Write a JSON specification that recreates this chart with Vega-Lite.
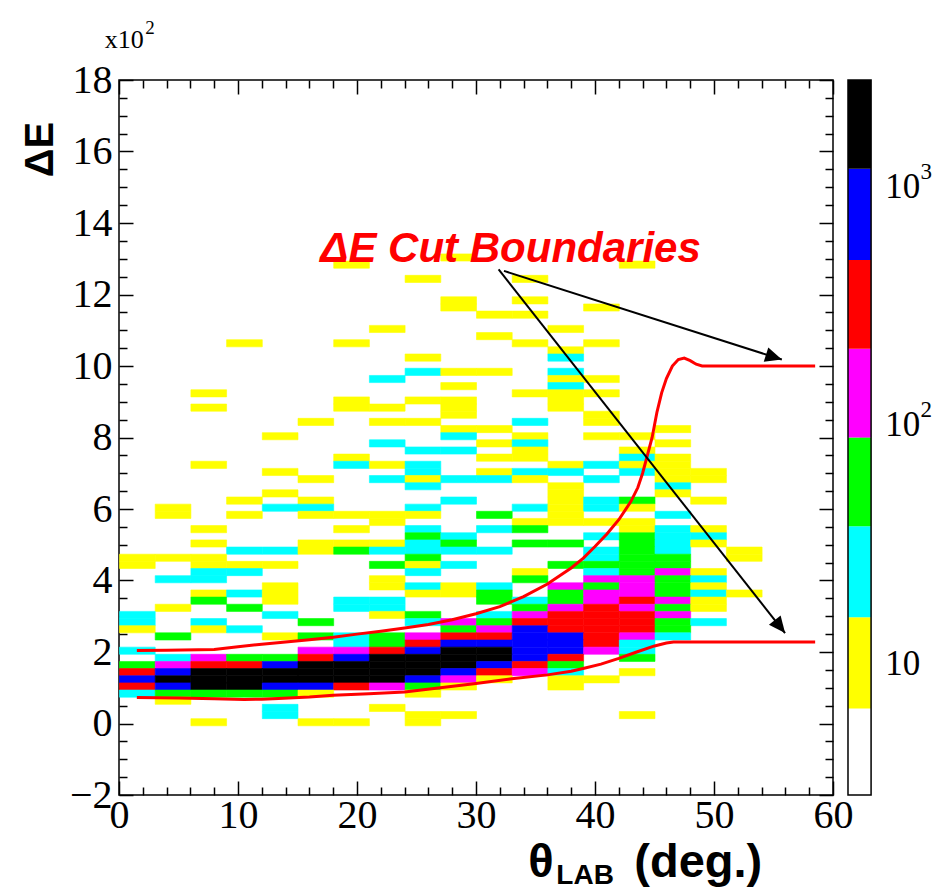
{
  "$schema": "https://vega.github.io/schema/vega-lite/v6.json",
  "width": 714,
  "height": 715,
  "autosize": "none",
  "padding": {"left": 119, "top": 80, "right": 115, "bottom": 96},
  "background": "white",
  "config": {
    "view": {"stroke": "#000000", "strokeWidth": 1.5},
    "axis": {"grid": false, "domain": false, "tickColor": "#000000", "labelColor": "#000000", "tickWidth": 1.5, "title": null}
  },
  "resolve": {"scale": {"x": "independent", "y": "independent"}, "axis": {"x": "independent", "y": "independent"}},
  "layer": [
    {
      "data": {"values": [
        {"x":27,"y":12.95,"c":10},
        {"x":18,"y":12.75,"c":10},{"x":42,"y":12.75,"c":10},
        {"x":24,"y":12.35,"c":10},{"x":33,"y":12.35,"c":10},
        {"x":27,"y":11.75,"c":10},{"x":33,"y":11.75,"c":10},
        {"x":27,"y":11.55,"c":10},{"x":39,"y":11.55,"c":10},
        {"x":30,"y":11.35,"c":10},{"x":33,"y":11.35,"c":10},
        {"x":21,"y":10.95,"c":10},{"x":36,"y":10.95,"c":10},
        {"x":30,"y":10.75,"c":10},
        {"x":9,"y":10.55,"c":10},{"x":18,"y":10.55,"c":10},{"x":33,"y":10.55,"c":10},{"x":39,"y":10.55,"c":10},
        {"x":36,"y":10.35,"c":10},
        {"x":24,"y":10.15,"c":10},{"x":36,"y":10.15,"c":25},
        {"x":24,"y":9.75,"c":25},{"x":27,"y":9.75,"c":10},{"x":30,"y":9.75,"c":10},{"x":36,"y":9.75,"c":25},
        {"x":21,"y":9.55,"c":25},{"x":36,"y":9.55,"c":10},{"x":39,"y":9.55,"c":10},
        {"x":27,"y":9.35,"c":10},{"x":36,"y":9.35,"c":25},
        {"x":6,"y":9.15,"c":10},{"x":33,"y":9.15,"c":10},{"x":36,"y":9.15,"c":10},{"x":39,"y":9.15,"c":10},
        {"x":18,"y":8.95,"c":10},{"x":24,"y":8.95,"c":10},{"x":27,"y":8.95,"c":10},{"x":36,"y":8.95,"c":10},
        {"x":6,"y":8.75,"c":10},{"x":18,"y":8.75,"c":10},{"x":21,"y":8.75,"c":10},{"x":27,"y":8.75,"c":10},{"x":36,"y":8.75,"c":10},
        {"x":27,"y":8.55,"c":10},{"x":39,"y":8.55,"c":10},
        {"x":15,"y":8.35,"c":10},{"x":21,"y":8.35,"c":10},{"x":24,"y":8.35,"c":10},{"x":33,"y":8.35,"c":25},{"x":39,"y":8.35,"c":10},
        {"x":27,"y":8.15,"c":10},{"x":30,"y":8.15,"c":10},{"x":45,"y":8.15,"c":10},
        {"x":12,"y":7.95,"c":10},{"x":27,"y":7.95,"c":25},{"x":33,"y":7.95,"c":10},{"x":39,"y":7.95,"c":10},{"x":42,"y":7.95,"c":10},
        {"x":21,"y":7.75,"c":25},{"x":30,"y":7.75,"c":10},{"x":33,"y":7.75,"c":25},{"x":45,"y":7.75,"c":10},
        {"x":24,"y":7.55,"c":25},{"x":27,"y":7.55,"c":25},{"x":33,"y":7.55,"c":10},{"x":42,"y":7.55,"c":10},
        {"x":18,"y":7.35,"c":10},{"x":30,"y":7.35,"c":10},{"x":33,"y":7.35,"c":10},{"x":42,"y":7.35,"c":25},{"x":45,"y":7.35,"c":10},
        {"x":6,"y":7.15,"c":10},{"x":18,"y":7.15,"c":25},{"x":21,"y":7.15,"c":10},{"x":24,"y":7.15,"c":25},{"x":36,"y":7.15,"c":10},{"x":39,"y":7.15,"c":25},{"x":42,"y":7.15,"c":10},{"x":45,"y":7.15,"c":10},
        {"x":12,"y":6.95,"c":10},{"x":24,"y":6.95,"c":25},{"x":30,"y":6.95,"c":10},{"x":33,"y":6.95,"c":25},{"x":36,"y":6.95,"c":25},{"x":42,"y":6.95,"c":25},{"x":45,"y":6.95,"c":10},{"x":48,"y":6.95,"c":10},
        {"x":15,"y":6.75,"c":10},{"x":21,"y":6.75,"c":25},{"x":24,"y":6.75,"c":10},{"x":27,"y":6.75,"c":25},{"x":30,"y":6.75,"c":25},{"x":33,"y":6.75,"c":10},{"x":39,"y":6.75,"c":25},{"x":45,"y":6.75,"c":10},{"x":48,"y":6.75,"c":10},
        {"x":24,"y":6.55,"c":25},{"x":36,"y":6.55,"c":10},{"x":45,"y":6.55,"c":25},
        {"x":12,"y":6.35,"c":10},{"x":36,"y":6.35,"c":10},{"x":45,"y":6.35,"c":10},
        {"x":9,"y":6.15,"c":10},{"x":15,"y":6.15,"c":10},{"x":27,"y":6.15,"c":25},{"x":36,"y":6.15,"c":10},{"x":39,"y":6.15,"c":25},{"x":42,"y":6.15,"c":60},{"x":48,"y":6.15,"c":10},
        {"x":3,"y":5.95,"c":10},{"x":12,"y":5.95,"c":25},{"x":15,"y":5.95,"c":25},{"x":24,"y":5.95,"c":25},{"x":33,"y":5.95,"c":25},{"x":36,"y":5.95,"c":10},{"x":39,"y":5.95,"c":25},{"x":42,"y":5.95,"c":10},
        {"x":3,"y":5.75,"c":10},{"x":9,"y":5.75,"c":10},{"x":15,"y":5.75,"c":10},{"x":18,"y":5.75,"c":10},{"x":21,"y":5.75,"c":10},{"x":24,"y":5.75,"c":10},{"x":30,"y":5.75,"c":60},{"x":36,"y":5.75,"c":10},{"x":45,"y":5.75,"c":25},
        {"x":21,"y":5.55,"c":10},{"x":33,"y":5.55,"c":10},{"x":36,"y":5.55,"c":10},{"x":39,"y":5.55,"c":10},{"x":42,"y":5.55,"c":10},
        {"x":6,"y":5.35,"c":10},{"x":18,"y":5.35,"c":10},{"x":24,"y":5.35,"c":25},{"x":30,"y":5.35,"c":25},{"x":33,"y":5.35,"c":60},{"x":42,"y":5.35,"c":10},{"x":45,"y":5.35,"c":25},{"x":48,"y":5.35,"c":10},
        {"x":24,"y":5.15,"c":60},{"x":27,"y":5.15,"c":25},{"x":39,"y":5.15,"c":25},{"x":42,"y":5.15,"c":60},{"x":45,"y":5.15,"c":25},{"x":48,"y":5.15,"c":25},
        {"x":6,"y":4.95,"c":10},{"x":15,"y":4.95,"c":10},{"x":18,"y":4.95,"c":10},{"x":21,"y":4.95,"c":10},{"x":24,"y":4.95,"c":25},{"x":27,"y":4.95,"c":60},{"x":33,"y":4.95,"c":60},{"x":36,"y":4.95,"c":60},{"x":42,"y":4.95,"c":60},{"x":45,"y":4.95,"c":25},{"x":48,"y":4.95,"c":10},
        {"x":9,"y":4.75,"c":25},{"x":12,"y":4.75,"c":25},{"x":15,"y":4.75,"c":10},{"x":18,"y":4.75,"c":60},{"x":21,"y":4.75,"c":25},{"x":24,"y":4.75,"c":25},{"x":27,"y":4.75,"c":25},{"x":30,"y":4.75,"c":25},{"x":39,"y":4.75,"c":25},{"x":42,"y":4.75,"c":60},{"x":45,"y":4.75,"c":25},{"x":51,"y":4.75,"c":10},
        {"x":0,"y":4.55,"c":10},{"x":3,"y":4.55,"c":10},{"x":6,"y":4.55,"c":10},{"x":24,"y":4.55,"c":60},{"x":39,"y":4.55,"c":25},{"x":42,"y":4.55,"c":60},{"x":45,"y":4.55,"c":60},{"x":51,"y":4.55,"c":10},
        {"x":0,"y":4.35,"c":10},{"x":6,"y":4.35,"c":10},{"x":9,"y":4.35,"c":10},{"x":12,"y":4.35,"c":10},{"x":21,"y":4.35,"c":60},{"x":24,"y":4.35,"c":10},{"x":27,"y":4.35,"c":25},{"x":36,"y":4.35,"c":60},{"x":39,"y":4.35,"c":60},{"x":42,"y":4.35,"c":60},{"x":45,"y":4.35,"c":60},
        {"x":6,"y":4.15,"c":25},{"x":9,"y":4.15,"c":25},{"x":24,"y":4.15,"c":25},{"x":33,"y":4.15,"c":10},{"x":39,"y":4.15,"c":25},{"x":42,"y":4.15,"c":60},{"x":45,"y":4.15,"c":140},{"x":48,"y":4.15,"c":10},
        {"x":3,"y":3.95,"c":25},{"x":6,"y":3.95,"c":25},{"x":21,"y":3.95,"c":10},{"x":33,"y":3.95,"c":60},{"x":39,"y":3.95,"c":140},{"x":42,"y":3.95,"c":140},{"x":45,"y":3.95,"c":60},{"x":48,"y":3.95,"c":25},
        {"x":12,"y":3.75,"c":10},{"x":21,"y":3.75,"c":10},{"x":24,"y":3.75,"c":25},{"x":27,"y":3.75,"c":10},{"x":30,"y":3.75,"c":25},{"x":36,"y":3.75,"c":140},{"x":39,"y":3.75,"c":60},{"x":42,"y":3.75,"c":140},{"x":45,"y":3.75,"c":60},{"x":48,"y":3.75,"c":10},
        {"x":6,"y":3.55,"c":10},{"x":9,"y":3.55,"c":25},{"x":12,"y":3.55,"c":10},{"x":24,"y":3.55,"c":10},{"x":27,"y":3.55,"c":10},{"x":30,"y":3.55,"c":60},{"x":36,"y":3.55,"c":60},{"x":39,"y":3.55,"c":140},{"x":42,"y":3.55,"c":140},{"x":45,"y":3.55,"c":60},{"x":48,"y":3.55,"c":25},{"x":51,"y":3.55,"c":10},
        {"x":6,"y":3.35,"c":60},{"x":12,"y":3.35,"c":10},{"x":18,"y":3.35,"c":25},{"x":21,"y":3.35,"c":25},{"x":30,"y":3.35,"c":60},{"x":33,"y":3.35,"c":25},{"x":36,"y":3.35,"c":60},{"x":39,"y":3.35,"c":140},{"x":42,"y":3.35,"c":330},{"x":45,"y":3.35,"c":140},{"x":48,"y":3.35,"c":10},
        {"x":3,"y":3.15,"c":10},{"x":9,"y":3.15,"c":60},{"x":18,"y":3.15,"c":25},{"x":21,"y":3.15,"c":25},{"x":33,"y":3.15,"c":60},{"x":36,"y":3.15,"c":140},{"x":39,"y":3.15,"c":330},{"x":42,"y":3.15,"c":140},{"x":45,"y":3.15,"c":60},{"x":48,"y":3.15,"c":10},
        {"x":0,"y":2.95,"c":25},{"x":12,"y":2.95,"c":25},{"x":21,"y":2.95,"c":10},{"x":24,"y":2.95,"c":60},{"x":30,"y":2.95,"c":25},{"x":33,"y":2.95,"c":140},{"x":36,"y":2.95,"c":330},{"x":39,"y":2.95,"c":330},{"x":42,"y":2.95,"c":330},{"x":45,"y":2.95,"c":140},
        {"x":0,"y":2.75,"c":25},{"x":6,"y":2.75,"c":25},{"x":15,"y":2.75,"c":60},{"x":24,"y":2.75,"c":25},{"x":27,"y":2.75,"c":140},{"x":30,"y":2.75,"c":60},{"x":33,"y":2.75,"c":330},{"x":36,"y":2.75,"c":330},{"x":39,"y":2.75,"c":330},{"x":42,"y":2.75,"c":330},{"x":45,"y":2.75,"c":60},{"x":48,"y":2.75,"c":25},
        {"x":0,"y":2.55,"c":10},{"x":6,"y":2.55,"c":10},{"x":9,"y":2.55,"c":25},{"x":27,"y":2.55,"c":60},{"x":30,"y":2.55,"c":140},{"x":33,"y":2.55,"c":750},{"x":36,"y":2.55,"c":330},{"x":39,"y":2.55,"c":330},{"x":42,"y":2.55,"c":330},{"x":45,"y":2.55,"c":60},
        {"x":3,"y":2.35,"c":60},{"x":12,"y":2.35,"c":10},{"x":15,"y":2.35,"c":60},{"x":18,"y":2.35,"c":25},{"x":21,"y":2.35,"c":60},{"x":24,"y":2.35,"c":140},{"x":27,"y":2.35,"c":330},{"x":30,"y":2.35,"c":330},{"x":33,"y":2.35,"c":750},{"x":36,"y":2.35,"c":750},{"x":39,"y":2.35,"c":330},{"x":42,"y":2.35,"c":140},{"x":45,"y":2.35,"c":25},
        {"x":18,"y":2.15,"c":25},{"x":21,"y":2.15,"c":60},{"x":24,"y":2.15,"c":330},{"x":27,"y":2.15,"c":750},{"x":30,"y":2.15,"c":750},{"x":33,"y":2.15,"c":750},{"x":36,"y":2.15,"c":750},{"x":39,"y":2.15,"c":330},{"x":42,"y":2.15,"c":25},
        {"x":0,"y":1.95,"c":25},{"x":15,"y":1.95,"c":140},{"x":18,"y":1.95,"c":140},{"x":21,"y":1.95,"c":330},{"x":24,"y":1.95,"c":750},{"x":27,"y":1.95,"c":1800},{"x":30,"y":1.95,"c":1800},{"x":33,"y":1.95,"c":750},{"x":36,"y":1.95,"c":750},{"x":39,"y":1.95,"c":140},{"x":42,"y":1.95,"c":25},
        {"x":3,"y":1.75,"c":25},{"x":6,"y":1.75,"c":140},{"x":9,"y":1.75,"c":60},{"x":12,"y":1.75,"c":60},{"x":15,"y":1.75,"c":330},{"x":18,"y":1.75,"c":750},{"x":21,"y":1.75,"c":1800},{"x":24,"y":1.75,"c":1800},{"x":27,"y":1.75,"c":1800},{"x":30,"y":1.75,"c":1800},{"x":33,"y":1.75,"c":750},{"x":36,"y":1.75,"c":330},{"x":42,"y":1.75,"c":60},
        {"x":0,"y":1.55,"c":60},{"x":3,"y":1.55,"c":140},{"x":6,"y":1.55,"c":330},{"x":9,"y":1.55,"c":330},{"x":12,"y":1.55,"c":750},{"x":15,"y":1.55,"c":1800},{"x":18,"y":1.55,"c":1800},{"x":21,"y":1.55,"c":1800},{"x":24,"y":1.55,"c":1800},{"x":27,"y":1.55,"c":1800},{"x":30,"y":1.55,"c":750},{"x":33,"y":1.55,"c":330},{"x":36,"y":1.55,"c":60},
        {"x":0,"y":1.35,"c":330},{"x":3,"y":1.35,"c":750},{"x":6,"y":1.35,"c":1800},{"x":9,"y":1.35,"c":1800},{"x":12,"y":1.35,"c":1800},{"x":15,"y":1.35,"c":1800},{"x":18,"y":1.35,"c":1800},{"x":21,"y":1.35,"c":1800},{"x":24,"y":1.35,"c":1800},{"x":27,"y":1.35,"c":750},{"x":30,"y":1.35,"c":330},{"x":33,"y":1.35,"c":140},{"x":36,"y":1.35,"c":25},{"x":42,"y":1.35,"c":10},
        {"x":0,"y":1.15,"c":750},{"x":3,"y":1.15,"c":1800},{"x":6,"y":1.15,"c":1800},{"x":9,"y":1.15,"c":1800},{"x":12,"y":1.15,"c":1800},{"x":15,"y":1.15,"c":1800},{"x":18,"y":1.15,"c":1800},{"x":21,"y":1.15,"c":1800},{"x":24,"y":1.15,"c":750},{"x":27,"y":1.15,"c":140},{"x":30,"y":1.15,"c":10},{"x":36,"y":1.15,"c":10},{"x":39,"y":1.15,"c":10},
        {"x":0,"y":0.95,"c":330},{"x":3,"y":0.95,"c":750},{"x":6,"y":0.95,"c":1800},{"x":9,"y":0.95,"c":1800},{"x":12,"y":0.95,"c":750},{"x":15,"y":0.95,"c":750},{"x":18,"y":0.95,"c":330},{"x":21,"y":0.95,"c":140},{"x":24,"y":0.95,"c":60},{"x":27,"y":0.95,"c":10},{"x":36,"y":0.95,"c":10},
        {"x":0,"y":0.75,"c":25},{"x":3,"y":0.75,"c":60},{"x":6,"y":0.75,"c":60},{"x":9,"y":0.75,"c":60},{"x":12,"y":0.75,"c":60},{"x":15,"y":0.75,"c":10},{"x":24,"y":0.75,"c":10},
        {"x":3,"y":0.55,"c":10},
        {"x":12,"y":0.35,"c":25},{"x":21,"y":0.35,"c":10},
        {"x":12,"y":0.15,"c":25},{"x":24,"y":0.15,"c":10},{"x":27,"y":0.15,"c":10},{"x":42,"y":0.15,"c":10},
        {"x":6,"y":-0.05,"c":10},{"x":15,"y":-0.05,"c":10},{"x":18,"y":-0.05,"c":10},{"x":24,"y":-0.05,"c":10}
      ]},
      "mark": {"type": "rect", "strokeWidth": 0.6},
      "encoding": {
        "x": {"field": "x", "type": "quantitative", "bin": {"binned": true, "step": 3}, "scale": {"domain": [0, 60], "nice": false, "zero": false}, "axis": null},
        "y": {"field": "y", "type": "quantitative", "bin": {"binned": true, "step": 0.2}, "scale": {"domain": [-2, 18], "nice": false, "zero": false}, "axis": null},
        "color": {"field": "c", "type": "quantitative", "scale": {"type": "threshold", "domain": [6.5, 15.7, 37.8, 89, 210, 494, 1194], "range": ["#ffffff", "#ffff00", "#00ffff", "#00ff00", "#ff00ff", "#ff0000", "#0000ff", "#000000"]}, "legend": null},
        "stroke": {"field": "c", "type": "quantitative", "scale": {"type": "threshold", "domain": [6.5, 15.7, 37.8, 89, 210, 494, 1194], "range": ["#ffffff", "#ffff00", "#00ffff", "#00ff00", "#ff00ff", "#ff0000", "#0000ff", "#000000"]}, "legend": null}
      }
    },
    {
      "data": {"values": [
        {"k":"upper","x":1.5,"y":2.04},{"k":"upper","x":4,"y":2.05},{"k":"upper","x":8,"y":2.07},{"k":"upper","x":10,"y":2.15},{"k":"upper","x":12,"y":2.22},{"k":"upper","x":14,"y":2.28},{"k":"upper","x":16,"y":2.34},{"k":"upper","x":18,"y":2.41},{"k":"upper","x":20,"y":2.5},{"k":"upper","x":22,"y":2.58},{"k":"upper","x":24,"y":2.67},{"k":"upper","x":26,"y":2.77},{"k":"upper","x":28,"y":2.9},{"k":"upper","x":30,"y":3.07},{"k":"upper","x":32,"y":3.27},{"k":"upper","x":34,"y":3.55},{"k":"upper","x":36,"y":3.9},{"k":"upper","x":38,"y":4.35},{"k":"upper","x":39,"y":4.62},{"k":"upper","x":40,"y":4.95},{"k":"upper","x":41,"y":5.3},{"k":"upper","x":42,"y":5.7},{"k":"upper","x":43,"y":6.2},{"k":"upper","x":43.6,"y":6.6},{"k":"upper","x":44,"y":7.0},{"k":"upper","x":44.4,"y":7.5},{"k":"upper","x":44.8,"y":8.0},{"k":"upper","x":45.2,"y":8.7},{"k":"upper","x":45.6,"y":9.25},{"k":"upper","x":46,"y":9.65},{"k":"upper","x":46.5,"y":10.0},{"k":"upper","x":47,"y":10.18},{"k":"upper","x":47.5,"y":10.22},{"k":"upper","x":48,"y":10.15},{"k":"upper","x":48.5,"y":10.05},{"k":"upper","x":49,"y":10.0},{"k":"upper","x":58.5,"y":10.0},
        {"k":"lower","x":1.5,"y":0.73},{"k":"lower","x":5,"y":0.71},{"k":"lower","x":8,"y":0.69},{"k":"lower","x":10.5,"y":0.67},{"k":"lower","x":12,"y":0.68},{"k":"lower","x":13.4,"y":0.7},{"k":"lower","x":16,"y":0.74},{"k":"lower","x":18,"y":0.79},{"k":"lower","x":21,"y":0.83},{"k":"lower","x":24,"y":0.88},{"k":"lower","x":27,"y":1.0},{"k":"lower","x":30,"y":1.12},{"k":"lower","x":33,"y":1.25},{"k":"lower","x":36,"y":1.36},{"k":"lower","x":38,"y":1.46},{"k":"lower","x":39,"y":1.54},{"k":"lower","x":40.5,"y":1.66},{"k":"lower","x":42,"y":1.82},{"k":"lower","x":43.5,"y":2.0},{"k":"lower","x":45,"y":2.17},{"k":"lower","x":46,"y":2.25},{"k":"lower","x":46.6,"y":2.28},{"k":"lower","x":58.5,"y":2.28}
      ]},
      "mark": {"type": "line", "color": "#ff0000", "strokeWidth": 3},
      "encoding": {
        "x": {"field": "x", "type": "quantitative", "scale": {"domain": [0, 60], "nice": false, "zero": false},
              "axis": {"orient": "bottom", "values": [0, 10, 20, 30, 40, 50, 60], "ticks": false, "labelFont": "Liberation Serif", "labelFontSize": 40, "labelPadding": 0, "labelFlush": false, "labelOverlap": false}},
        "y": {"field": "y", "type": "quantitative", "scale": {"domain": [-2, 18], "nice": false, "zero": false},
              "axis": {"orient": "left", "values": [-2, 0, 2, 4, 6, 8, 10, 12, 14, 16, 18], "ticks": false, "labelFont": "Liberation Serif", "labelFontSize": 40, "labelPadding": 7, "labelFlush": false, "labelOverlap": false,
                       "title": "ΔE", "titleFont": "Liberation Sans", "titleFontWeight": "bold", "titleFontSize": 40, "titleX": -79, "titleY": 69, "titleAngle": -90, "titleAlign": "center", "titleBaseline": "middle"}},
        "detail": {"field": "k"}
      }
    },
    {
      "data": {"values": [
        {"x": 32.35, "y": 12.66, "x2": 55.7, "y2": 10.18},
        {"x": 31.9, "y": 12.7, "x2": 55.97, "y2": 2.53}
      ]},
      "mark": {"type": "rule", "color": "#000000", "strokeWidth": 2},
      "encoding": {
        "x": {"field": "x", "type": "quantitative", "scale": {"domain": [0, 60], "nice": false, "zero": false},
              "axis": {"orient": "bottom", "values": [0, 10, 20, 30, 40, 50, 60], "labels": false, "tickSize": -14}},
        "y": {"field": "y", "type": "quantitative", "scale": {"domain": [-2, 18], "nice": false, "zero": false},
              "axis": {"orient": "left", "values": [-2, 0, 2, 4, 6, 8, 10, 12, 14, 16, 18], "labels": false, "tickSize": -14}},
        "x2": {"field": "x2"},
        "y2": {"field": "y2"}
      }
    },
    {
      "data": {"values": [{"x": 55.7, "y": 10.18}]},
      "mark": {"type": "point", "shape": "M0,0L-1,-0.45L-1,0.45Z", "size": 1100, "angle": 17.7, "filled": true, "color": "#000000", "opacity": 1},
      "encoding": {
        "x": {"field": "x", "type": "quantitative", "scale": {"domain": [0, 60], "nice": false, "zero": false},
              "axis": {"orient": "bottom", "values": [2,4,6,8,12,14,16,18,22,24,26,28,32,34,36,38,42,44,46,48,52,54,56,58], "labels": false, "tickSize": -8}},
        "y": {"field": "y", "type": "quantitative", "scale": {"domain": [-2, 18], "nice": false, "zero": false},
              "axis": {"orient": "left", "values": [-1.5,-1,-0.5,0.5,1,1.5,2.5,3,3.5,4.5,5,5.5,6.5,7,7.5,8.5,9,9.5,10.5,11,11.5,12.5,13,13.5,14.5,15,15.5,16.5,17,17.5], "labels": false, "tickSize": -8}}
      }
    },
    {
      "data": {"values": [{"x": 55.97, "y": 2.53}]},
      "mark": {"type": "point", "shape": "M0,0L-1,-0.45L-1,0.45Z", "size": 1100, "angle": 51.8, "filled": true, "color": "#000000", "opacity": 1},
      "encoding": {
        "x": {"field": "x", "type": "quantitative", "scale": {"domain": [0, 60], "nice": false, "zero": false},
              "axis": {"orient": "top", "values": [0, 10, 20, 30, 40, 50, 60], "labels": false, "tickSize": -14}},
        "y": {"field": "y", "type": "quantitative", "scale": {"domain": [-2, 18], "nice": false, "zero": false},
              "axis": {"orient": "right", "values": [-2, 0, 2, 4, 6, 8, 10, 12, 14, 16, 18], "labels": false, "tickSize": -14}}
      }
    },
    {
      "data": {"values": [{"t": "ΔE Cut Boundaries", "x": 32.9, "y": 12.9}]},
      "mark": {"type": "text", "font": "Liberation Sans", "fontWeight": "bold", "fontStyle": "italic", "fontSize": 42, "color": "#ff0000", "align": "center", "baseline": "alphabetic"},
      "encoding": {
        "x": {"field": "x", "type": "quantitative", "scale": {"domain": [0, 60], "nice": false, "zero": false},
              "axis": {"orient": "top", "values": [2,4,6,8,12,14,16,18,22,24,26,28,32,34,36,38,42,44,46,48,52,54,56,58], "labels": false, "tickSize": -8}},
        "y": {"field": "y", "type": "quantitative", "scale": {"domain": [-2, 18], "nice": false, "zero": false},
              "axis": {"orient": "right", "values": [-1.5,-1,-0.5,0.5,1,1.5,2.5,3,3.5,4.5,5,5.5,6.5,7,7.5,8.5,9,9.5,10.5,11,11.5,12.5,13,13.5,14.5,15,15.5,16.5,17,17.5], "labels": false, "tickSize": -8}},
        "text": {"field": "t"}
      }
    },
    {
      "data": {"values": [{"t": "x10", "x": -1.2, "y": 18.9}]},
      "mark": {"type": "text", "font": "Liberation Serif", "fontSize": 26, "color": "#000000", "align": "left", "baseline": "alphabetic"},
      "encoding": {
        "x": {"field": "x", "type": "quantitative", "scale": {"domain": [0, 60], "nice": false, "zero": false}, "axis": null},
        "y": {"field": "y", "type": "quantitative", "scale": {"domain": [-2, 18], "nice": false, "zero": false}, "axis": null},
        "text": {"field": "t"}
      }
    },
    {
      "data": {"values": [{"t": "2", "x": 2.2, "y": 19.3}]},
      "mark": {"type": "text", "font": "Liberation Serif", "fontSize": 19, "color": "#000000", "align": "left", "baseline": "alphabetic"},
      "encoding": {
        "x": {"field": "x", "type": "quantitative", "scale": {"domain": [0, 60], "nice": false, "zero": false}, "axis": null},
        "y": {"field": "y", "type": "quantitative", "scale": {"domain": [-2, 18], "nice": false, "zero": false}, "axis": null},
        "text": {"field": "t"}
      }
    },
    {
      "data": {"values": [{"t": "θ", "x": 34.4, "y": -4.3}, {"t": "(deg.)", "x": 43.3, "y": -4.3}]},
      "mark": {"type": "text", "font": "Liberation Sans", "fontWeight": "bold", "fontSize": 47, "color": "#000000", "align": "left", "baseline": "alphabetic"},
      "encoding": {
        "x": {"field": "x", "type": "quantitative", "scale": {"domain": [0, 60], "nice": false, "zero": false}, "axis": null},
        "y": {"field": "y", "type": "quantitative", "scale": {"domain": [-2, 18], "nice": false, "zero": false}, "axis": null},
        "text": {"field": "t"}
      }
    },
    {
      "data": {"values": [{"t": "LAB", "x": 36.75, "y": -4.5}]},
      "mark": {"type": "text", "font": "Liberation Sans", "fontWeight": "bold", "fontSize": 28, "color": "#000000", "align": "left", "baseline": "alphabetic"},
      "encoding": {
        "x": {"field": "x", "type": "quantitative", "scale": {"domain": [0, 60], "nice": false, "zero": false}, "axis": null},
        "y": {"field": "y", "type": "quantitative", "scale": {"domain": [-2, 18], "nice": false, "zero": false}, "axis": null},
        "text": {"field": "t"}
      }
    },
    {
      "data": {"values": [
        {"lo": 2.82, "hi": 6.5, "c": 4},
        {"lo": 6.5, "hi": 15.7, "c": 10},
        {"lo": 15.7, "hi": 37.8, "c": 25},
        {"lo": 37.8, "hi": 89, "c": 60},
        {"lo": 89, "hi": 210, "c": 140},
        {"lo": 210, "hi": 494, "c": 330},
        {"lo": 494, "hi": 1194, "c": 750},
        {"lo": 1194, "hi": 2812, "c": 1800}
      ]},
      "mark": {"type": "rect"},
      "encoding": {
        "x": {"datum": 61.26, "type": "quantitative", "scale": {"domain": [0, 60], "nice": false, "zero": false}, "axis": null},
        "x2": {"datum": 63.2},
        "y": {"field": "lo", "type": "quantitative", "scale": {"type": "log", "domain": [2.82, 2812], "nice": false}, "axis": null},
        "y2": {"field": "hi"},
        "color": {"field": "c", "type": "quantitative", "scale": {"type": "threshold", "domain": [6.5, 15.7, 37.8, 89, 210, 494, 1194], "range": ["#ffffff", "#ffff00", "#00ffff", "#00ff00", "#ff00ff", "#ff0000", "#0000ff", "#000000"]}, "legend": null}
      }
    },
    {
      "data": {"values": [{"lo": 2.82, "hi": 2812}]},
      "mark": {"type": "rect", "filled": false, "stroke": "#000000", "strokeWidth": 1.5},
      "encoding": {
        "x": {"datum": 61.26, "type": "quantitative", "scale": {"domain": [0, 60], "nice": false, "zero": false}, "axis": null},
        "x2": {"datum": 63.2},
        "y": {"field": "lo", "type": "quantitative", "scale": {"type": "log", "domain": [2.82, 2812], "nice": false},
              "axis": {"orient": "right", "offset": 37, "values": [10, 100, 1000], "labels": false, "tickSize": -22}},
        "y2": {"field": "hi"}
      }
    },
    {
      "data": {"values": [{"lo": 2.82, "hi": 2812}]},
      "mark": {"type": "rect", "opacity": 0},
      "encoding": {
        "x": {"datum": 61.26, "type": "quantitative", "scale": {"domain": [0, 60], "nice": false, "zero": false}, "axis": null},
        "x2": {"datum": 63.2},
        "y": {"field": "lo", "type": "quantitative", "scale": {"type": "log", "domain": [2.82, 2812], "nice": false},
              "axis": {"orient": "right", "offset": 37, "values": [3,4,5,6,7,8,9,20,30,40,50,60,70,80,90,200,300,400,500,600,700,800,900,2000], "labels": false, "tickSize": -11}},
        "y2": {"field": "hi"}
      }
    },
    {
      "data": {"values": [{"v": 10, "t": "10"}, {"v": 100, "t": "10"}, {"v": 1000, "t": "10"}]},
      "mark": {"type": "text", "font": "Liberation Serif", "fontSize": 35, "color": "#000000", "align": "left", "baseline": "middle"},
      "encoding": {
        "x": {"datum": 64.4, "type": "quantitative", "scale": {"domain": [0, 60], "nice": false, "zero": false}, "axis": null},
        "y": {"field": "v", "type": "quantitative", "scale": {"type": "log", "domain": [2.82, 2812], "nice": false}, "axis": null},
        "text": {"field": "t"}
      }
    },
    {
      "data": {"values": [{"v": 100, "t": "2"}, {"v": 1000, "t": "3"}]},
      "mark": {"type": "text", "font": "Liberation Serif", "fontSize": 23, "color": "#000000", "align": "left", "baseline": "middle", "dy": -15},
      "encoding": {
        "x": {"datum": 67.35, "type": "quantitative", "scale": {"domain": [0, 60], "nice": false, "zero": false}, "axis": null},
        "y": {"field": "v", "type": "quantitative", "scale": {"type": "log", "domain": [2.82, 2812], "nice": false}, "axis": null},
        "text": {"field": "t"}
      }
    }
  ]
}
